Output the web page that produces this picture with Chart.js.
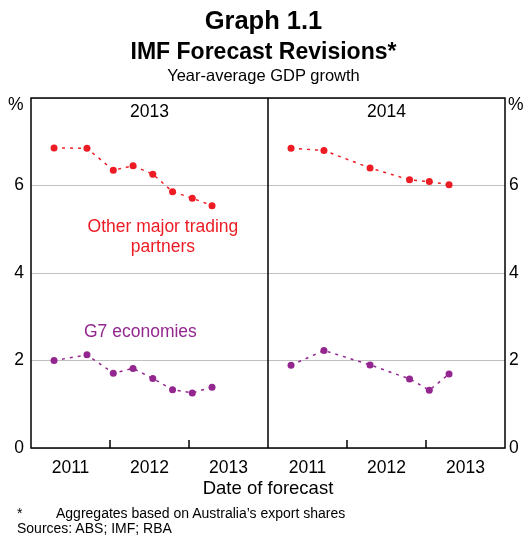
<!DOCTYPE html>
<html>
<head>
<meta charset="utf-8">
<script src="https://cdn.jsdelivr.net/npm/chart.js@4"></script>
<style>
  body { margin: 0; background: #fff; font-family: Arial, "Liberation Sans", sans-serif; }
  #wrap { position: relative; width: 527px; height: 536px; }
  #c { position: absolute; left: 0; top: 0; }
  .t { position: absolute; left: 0; width: 527px; text-align: center; color: #000; line-height: 1; }
  .n { position: absolute; font-size: 14px; color: #000; line-height: 1; }
  .p { position: absolute; font-size: 17.5px; color: #000; line-height: 1; top: 96px; }
</style>
</head>
<body>
<div id="wrap">
  <canvas id="c" width="527" height="536"></canvas>
  <div class="t" style="top:8px;font-size:25.5px;font-weight:bold">Graph 1.1</div>
  <div class="t" style="top:40px;font-size:23px;font-weight:bold">IMF Forecast Revisions*</div>
  <div class="t" style="top:67px;font-size:16.5px">Year-average GDP growth</div>
  <div class="p" style="left:8px">%</div>
  <div class="p" style="left:508px">%</div>
  <div class="n" style="top:506px;left:17px">*</div>
  <div class="n" style="top:506px;left:56px">Aggregates based on Australia’s export shares</div>
  <div class="n" style="top:521px;left:17px">Sources: ABS; IMF; RBA</div>
</div>
<script>
; ((D) => {

  // forecast year panels and x tick labels
  let panels = ['2013', '2014'];
  let yearLabels = ['2011', '2012', '2013'];
  let months = ['Jan', 'Feb', 'Mar', 'Apr', 'May', 'Jun', 'Jul', 'Aug', 'Sep', 'Oct', 'Nov', 'Dec'];

  // 2013 forecasts
  let dates2013 = ['Apr 2011', 'Sep 2011', 'Jan 2012', 'Apr 2012', 'Jul 2012', 'Oct 2012', 'Jan 2013', 'Apr 2013'];
  let partners2013 = [6.86, 6.85, 6.35, 6.45, 6.26, 5.86, 5.71, 5.54];
  let g7_2013 = [2.00, 2.13, 1.71, 1.82, 1.59, 1.33, 1.26, 1.39];

  // 2014 forecasts
  let dates2014 = ['Apr 2011', 'Sep 2011', 'Apr 2012', 'Oct 2012', 'Jan 2013', 'Apr 2013'];
  let partners2014 = [6.85, 6.80, 6.40, 6.13, 6.09, 6.02];
  let g7_2014 = [1.89, 2.23, 1.90, 1.58, 1.32, 1.69];

  let red = '#ed1c24';
  let purple = '#93278f';
  let font = 'Arial, "Liberation Sans", sans-serif';

  // date string -> position on the x scale (each panel spans 3 years)
  let toX = (s, panel) => {
    let [m, yr] = s.split(' ');
    return panel * 3 + (+yr - 2011) + (months.indexOf(m) + 0.5) / 12;
  };
  let pts = (dates, vals, panel) => dates.map((d, i) => ({ x: toX(d, panel), y: vals[i] }));

  let line = (data, color) => ({
    data: data,
    borderColor: color,
    backgroundColor: color,
    borderWidth: 1.5,
    borderDash: [3, 5],
    pointRadius: 3.5,
    pointHoverRadius: 3.5,
    pointBorderWidth: 0,
    tension: 0,
    yAxisID: 'y',
  });

  let frame = {
    id: 'frame',
    afterDraw(chart) {
      let { ctx, chartArea: a, scales: { x, y } } = chart;
      ctx.save();
      ctx.strokeStyle = '#000';
      ctx.lineWidth = 1.5;
      ctx.strokeRect(a.left, a.top, a.right - a.left, a.bottom - a.top);
      let mid = x.getPixelForValue(3);
      ctx.beginPath();
      ctx.moveTo(mid, a.top);
      ctx.lineTo(mid, a.bottom);
      for (let v of [1, 2, 4, 5]) {
        let px = x.getPixelForValue(v);
        ctx.moveTo(px, a.bottom);
        ctx.lineTo(px, a.bottom - 8);
      }
      ctx.stroke();

      ctx.textAlign = 'center';
      ctx.textBaseline = 'middle';
      ctx.fillStyle = '#000';
      ctx.font = '17.5px ' + font;
      panels.forEach((p, i) => ctx.fillText(p, x.getPixelForValue(i * 3 + 1.5), a.top + 14));

      ctx.fillStyle = red;
      ctx.fillText('Other major trading', x.getPixelForValue(1.67), y.getPixelForValue(5.04));
      ctx.fillText('partners', x.getPixelForValue(1.67), y.getPixelForValue(4.58));
      ctx.fillStyle = purple;
      ctx.fillText('G7 economies', x.getPixelForValue(1.385), y.getPixelForValue(2.65));
      ctx.restore();
    }
  };

  let ctx = D.querySelector('#c').getContext('2d');

  let tickFont = { family: font, size: 17.5 };

  let chart = new Chart(ctx, {
    type: 'line',
    data: {
      datasets: [
        line(pts(dates2013, partners2013, 0), red),
        line(pts(dates2014, partners2014, 1), red),
        line(pts(dates2013, g7_2013, 0), purple),
        line(pts(dates2014, g7_2014, 1), purple),
      ]
    },
    options: {
      responsive: false,
      animation: false,
      layout: { padding: { top: 98, bottom: 35, left: 0, right: 0 } },
      plugins: { legend: { display: false }, tooltip: { enabled: false } },
      scales: {
        x: {
          type: 'linear',
          min: 0,
          max: 6,
          afterBuildTicks: s => { s.ticks = [0.5, 1.5, 2.5, 3.5, 4.5, 5.5].map(v => ({ value: v })); },
          afterFit: s => { s.height = 53; },
          grid: { display: false },
          border: { display: false },
          ticks: {
            autoSkip: false,
            maxRotation: 0,
            padding: 2,
            color: '#000',
            font: tickFont,
            callback: v => yearLabels[Math.floor(v) % 3],
          },
          title: {
            display: true,
            text: 'Date of forecast',
            color: '#000',
            font: { family: font, size: 18.5 },
            padding: { top: 0, bottom: 1 },
          },
        },
        y: {
          position: 'left',
          min: 0,
          max: 8,
          afterFit: s => { s.width = 31; },
          grid: { color: '#c0c0c0', lineWidth: 1, drawTicks: false },
          border: { display: false },
          ticks: {
            stepSize: 2,
            padding: 7,
            color: '#000',
            font: tickFont,
            callback: v => v === 8 ? '' : v,
          },
        },
        y2: {
          position: 'right',
          min: 0,
          max: 8,
          afterFit: s => { s.width = 22; },
          grid: { display: false, drawTicks: false },
          border: { display: false },
          ticks: {
            stepSize: 2,
            padding: 4,
            color: '#000',
            font: tickFont,
            callback: v => v === 8 ? '' : v,
          },
        },
      }
    },
    plugins: [frame]
  });
})(document)
</script>
</body>
</html>
